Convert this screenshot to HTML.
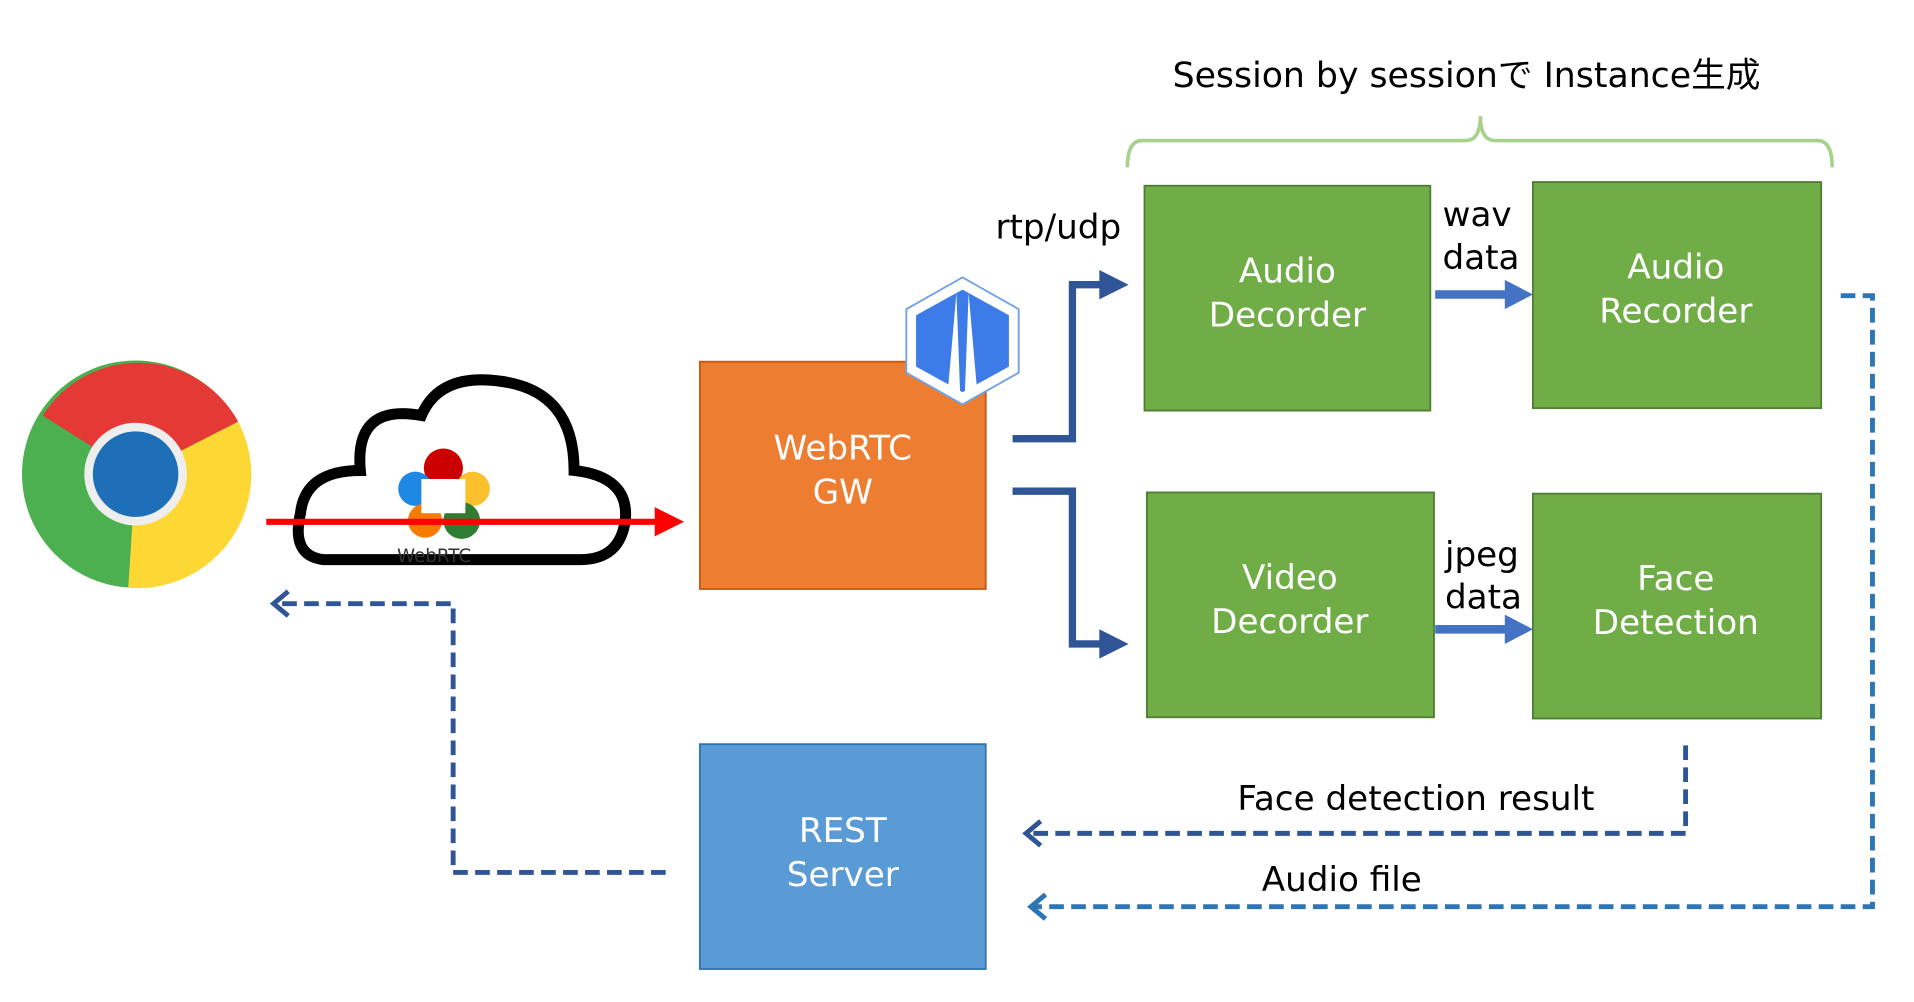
<!DOCTYPE html>
<html><head><meta charset="utf-8"><style>
html,body{margin:0;padding:0;background:#fff;width:1914px;height:1002px;overflow:hidden}
svg{display:block}
text{font-family:"DejaVu Sans","Noto Sans CJK JP",sans-serif}
</style></head><body>
<svg width="1914" height="1002" viewBox="0 0 1567 820" preserveAspectRatio="none">
<text x="960" y="71" font-size="28.4" fill="#000">Session by sessionで Instance生成</text>
<path d="M923,137 Q923,115 935,115 L1200,115 Q1212,115 1212,95 Q1212,115 1224,115 L1488,115 Q1500,115 1500,137" fill="none" stroke="#a9d18e" stroke-width="3"/>
<g stroke="#507e32" stroke-width="1.5" fill="#70ad47">
<rect x="937" y="152" width="234" height="184"/>
<rect x="1255" y="149" width="236" height="185"/>
<rect x="939" y="403" width="235" height="184"/>
<rect x="1255" y="404" width="236" height="184"/>
</g>
<rect x="573" y="296" width="234" height="186" fill="#ed7d31" stroke="#c55a11" stroke-width="1.5"/>
<rect x="573" y="609" width="234" height="184" fill="#5b9bd5" stroke="#2e75b6" stroke-width="1.5"/>
<g fill="#fff" font-size="28" text-anchor="middle">
<text x="1054" y="231">Audio</text><text x="1054" y="267">Decorder</text>
<text x="1372" y="228">Audio</text><text x="1372" y="264">Recorder</text>
<text x="1056" y="482">Video</text><text x="1056" y="518">Decorder</text>
<text x="1372" y="483">Face</text><text x="1372" y="519">Detection</text>
<text x="690" y="376">WebRTC</text><text x="690" y="412">GW</text>
<text x="690" y="689">REST</text><text x="690" y="725">Server</text>
</g>
<g fill="#000" font-size="28">
<text x="815" y="195">rtp/udp</text>
<text x="1181" y="185">wav</text><text x="1181" y="220">data</text>
<text x="1183" y="463">jpeg</text><text x="1183" y="498">data</text>
<text x="1013" y="663">Face detection result</text>
<text x="1033" y="729">Audio file</text>
</g>
<g fill="none" stroke="#2f5597" stroke-width="6">
<path d="M829,359 H878 V233 H905"/>
<path d="M829,402 H878 V527 H905"/>
</g>
<polygon points="900,221 924,233 900,245" fill="#2f5597"/>
<polygon points="900,515 924,527 900,539" fill="#2f5597"/>
<g stroke="#4472c4" stroke-width="7"><line x1="1175" y1="241" x2="1236" y2="241"/><line x1="1175" y1="515" x2="1236" y2="515"/></g>
<polygon points="1232,229 1255,241 1232,253" fill="#4472c4"/>
<polygon points="1232,503 1255,515 1232,527" fill="#4472c4"/>
<g fill="none" stroke-width="4" stroke-dasharray="12,6">
<path d="M1380,610 V682 H842" stroke="#2f5597"/>
<path d="M1507,242 H1533 V742 H846" stroke="#2e75b6"/>
<path d="M545,714 H371 V494 H226" stroke="#2f5597"/>
</g>
<g fill="none" stroke-width="4">
<path d="M852,672 L840,682 L852,692" stroke="#2f5597"/>
<path d="M856,732 L844,742 L856,752" stroke="#2e75b6"/>
<path d="M236,484 L224,494 L236,504" stroke="#2f5597"/>
</g>
<circle cx="111" cy="388" r="93" fill="#4caf50"/>
<path d="M111,388 L35,340 A93,93 0 0 1 195,345 Z" fill="#e53935"/>
<path d="M111,388 L195,345 A93,93 0 0 1 105,481 Z" fill="#fdd835"/>
<circle cx="111" cy="388" r="42" fill="#eee"/>
<circle cx="111" cy="388" r="35" fill="#1e6fb8"/>
<path d="M265,458 Q238,455 246,420 Q250,385 295,385 Q290,330 345,340 Q360,305 410,312 Q470,320 470,385 Q515,390 512,425 Q508,458 475,458 Z" fill="#fff" stroke="#000" stroke-width="9"/>
<circle cx="363" cy="383" r="16" fill="#c00"/><circle cx="340" cy="400" r="14" fill="#1e88e5"/><circle cx="387" cy="400" r="14" fill="#fbc02d"/><circle cx="348" cy="426" r="14" fill="#f57c00"/><circle cx="378" cy="426" r="15" fill="#2e7d32"/>
<rect x="345" y="392" width="36" height="28" fill="#fff"/>
<text x="325" y="460" font-size="15" fill="#333">WebRTC</text>
<line x1="218" y1="427" x2="540" y2="427" stroke="#f00" stroke-width="5"/>
<polygon points="536,415 560,427 536,439" fill="#f00"/>
<polygon points="788,227 834,253 834,305 788,331 742,305 742,253" fill="#fff" stroke="#6fa0e8" stroke-width="1.5"/>
<polygon points="788,237 826,258 826,300 788,321 750,300 750,258" fill="#3d7be8"/>
<path d="M783,240 L776,320 L786,320 Z M793,240 L800,320 L790,320 Z" fill="#fff"/>
</svg>
</body></html>
